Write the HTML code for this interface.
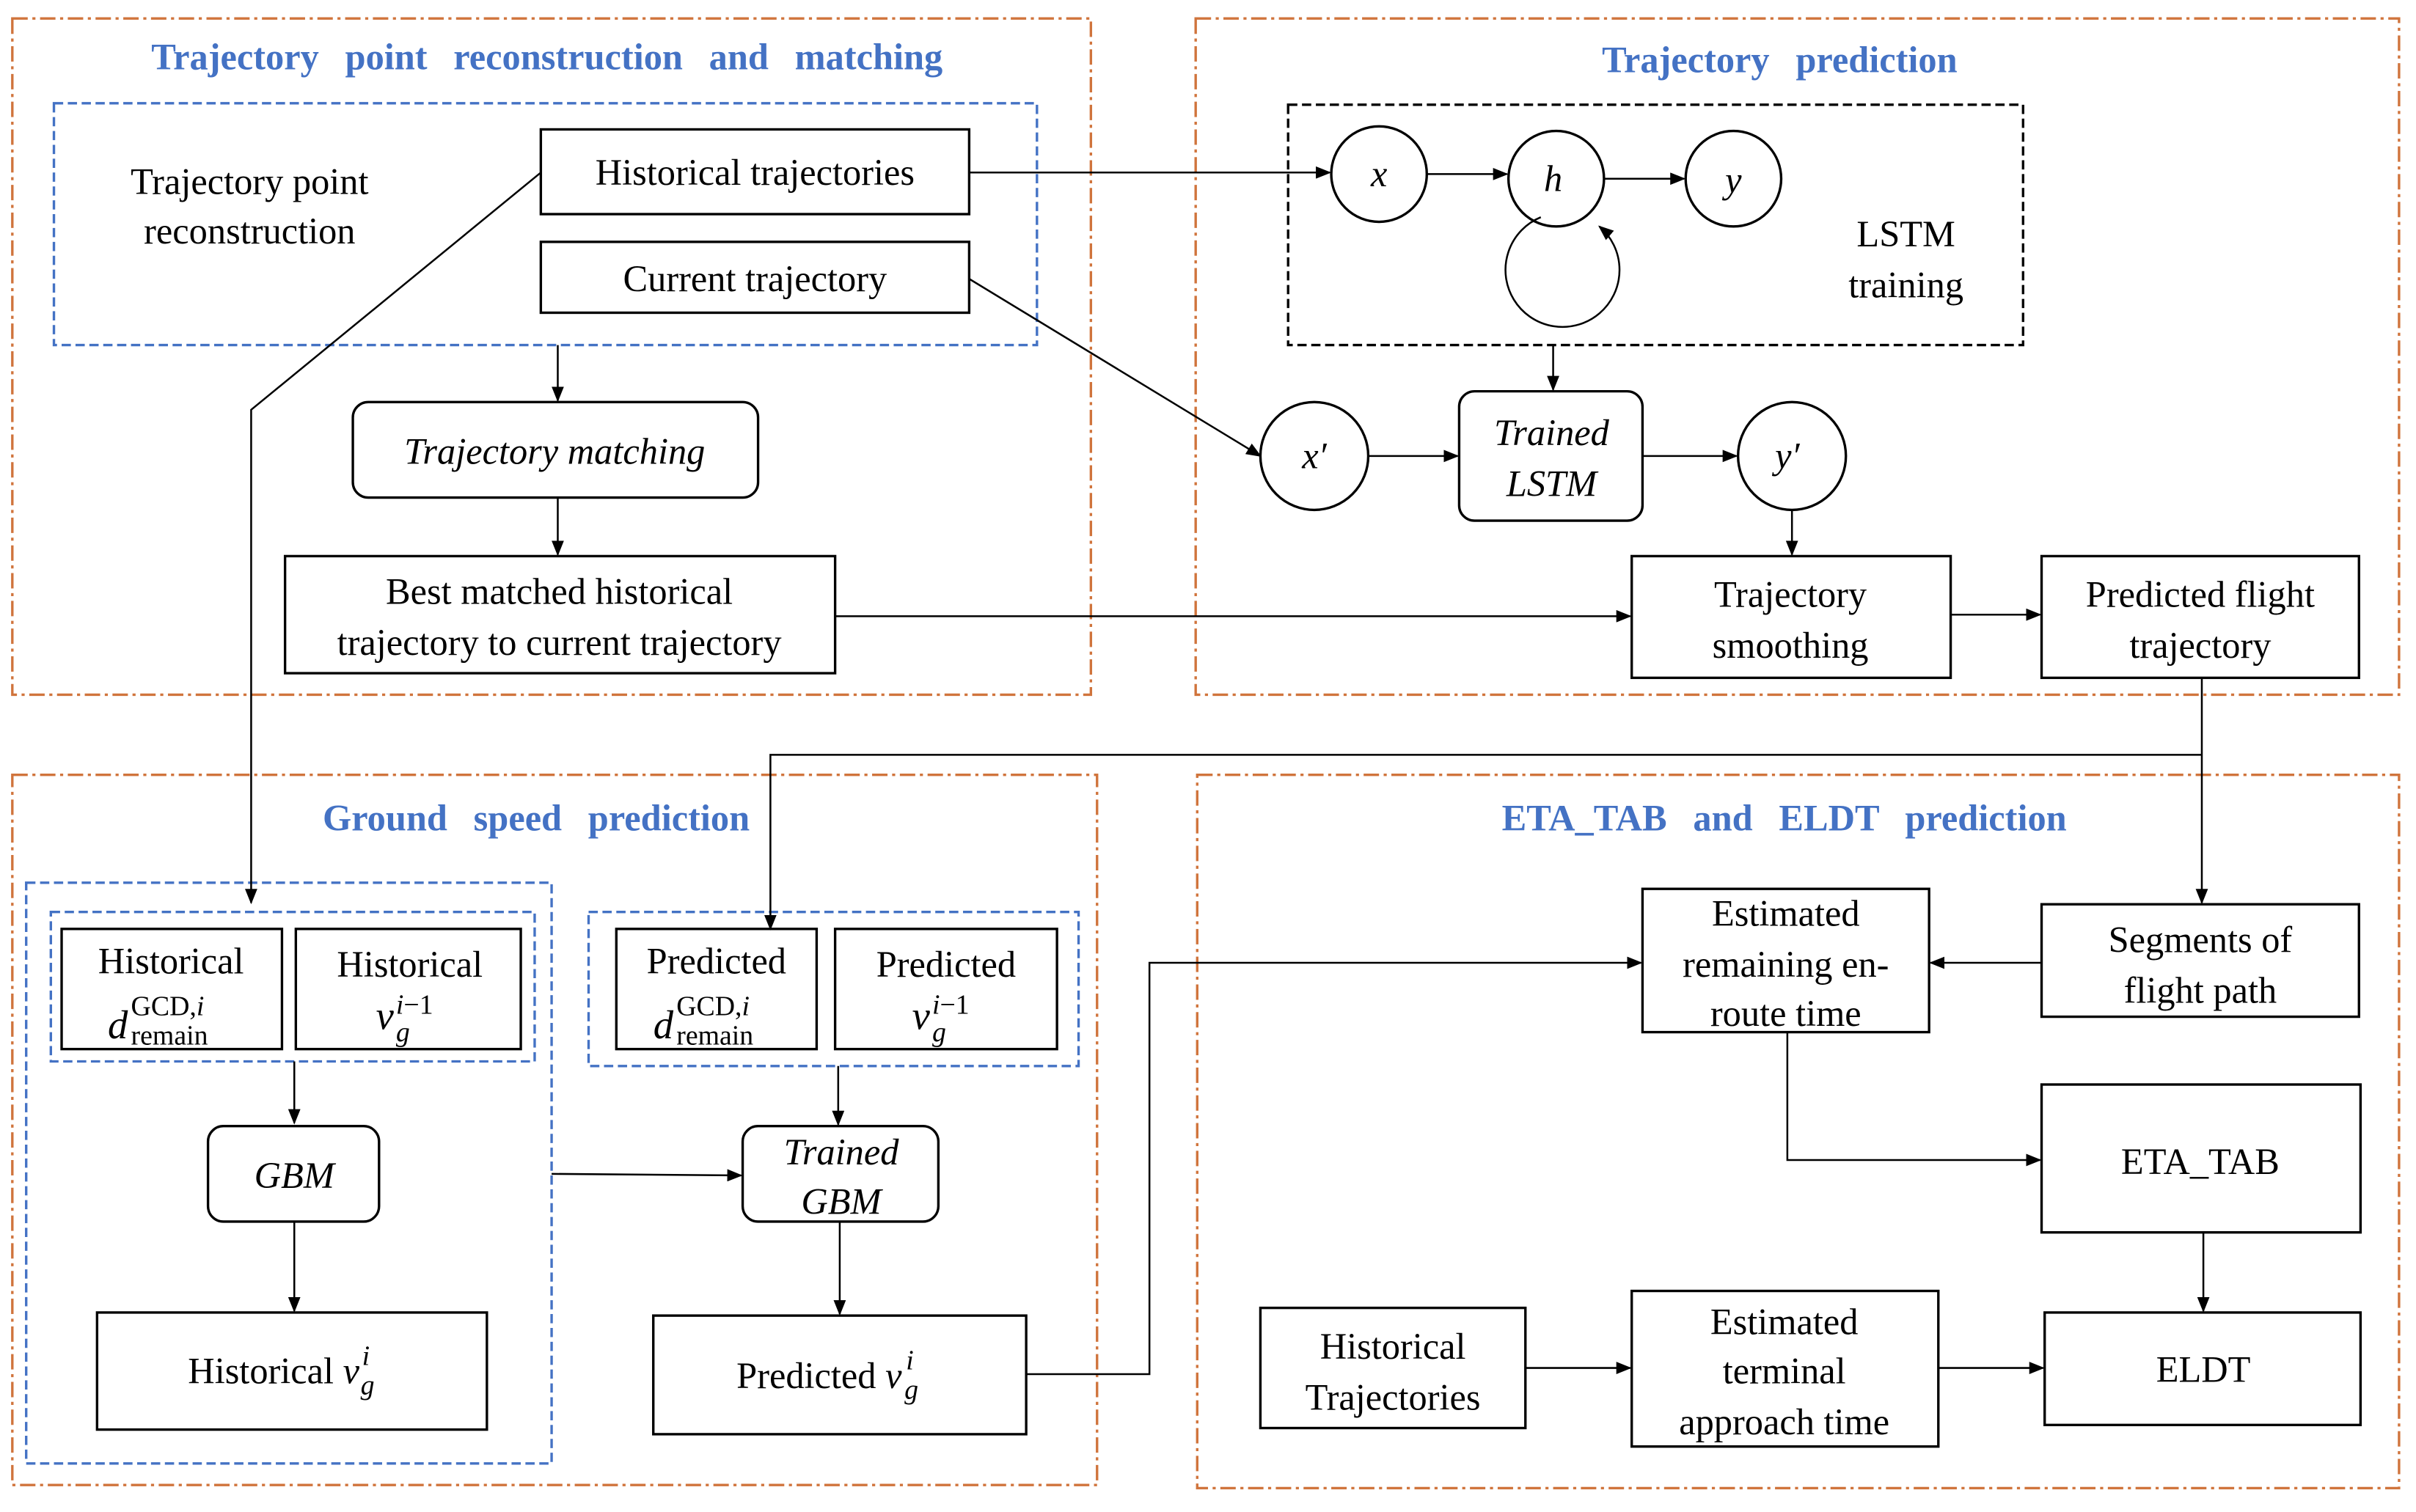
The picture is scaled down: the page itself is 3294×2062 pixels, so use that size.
<!DOCTYPE html>
<html><head><meta charset="utf-8"><style>
html,body{margin:0;padding:0;background:#fff;}
svg{display:block;}
text{font-family:"Liberation Serif",serif;fill:#000;}
.t{font-size:24px;text-anchor:middle;}
.h{font-size:24px;font-weight:bold;fill:#4472c4;text-anchor:middle;word-spacing:11px;}
.it{font-style:italic;}
.s{font-size:18px;}
</style></head><body>
<svg width="3294" height="2062" viewBox="0 0 1568 981.5" preserveAspectRatio="none" xmlns="http://www.w3.org/2000/svg">
<defs><marker id="a" markerWidth="10" markerHeight="8" refX="9" refY="4" orient="auto" markerUnits="userSpaceOnUse"><path d="M0,0L10,4L0,8z" fill="#000"/></marker></defs>
<rect width="1568" height="981.5" fill="#fff"/>
<g fill="none" stroke="#d0743c" stroke-width="1.6" stroke-dasharray="10 3 2 3">
<rect x="8" y="12" width="700" height="439"/>
<rect x="776" y="12" width="781" height="439"/>
<rect x="8" y="503" width="704" height="461"/>
<rect x="777" y="503" width="780" height="463"/>
</g>
<g fill="none" stroke="#4472c4" stroke-width="1.6" stroke-dasharray="6 3">
<rect x="35" y="67" width="638" height="157"/>
<rect x="17" y="573" width="341" height="377"/>
<rect x="33" y="592" width="314" height="97"/>
<rect x="382" y="592" width="318" height="100"/>
</g>
<rect x="836" y="68" width="477" height="156" fill="none" stroke="#000" stroke-width="1.6" stroke-dasharray="6 3"/>
<text class="h" x="355" y="45">Trajectory point reconstruction and matching</text>
<text class="h" x="1155" y="47">Trajectory prediction</text>
<text class="h" x="348" y="539">Ground speed prediction</text>
<text class="h" x="1158" y="539">ETA_TAB and ELDT prediction</text>
<g fill="#fff" stroke="#000" stroke-width="1.6">
<rect x="351" y="84" width="278" height="55"/>
<rect x="351" y="157" width="278" height="46"/>
<rect x="229" y="261" width="263" height="62" rx="10"/>
<rect x="185" y="361" width="357" height="76"/>
<circle cx="895" cy="113" r="31"/>
<circle cx="1010" cy="116" r="31"/>
<circle cx="1125" cy="116" r="31"/>
<circle cx="853" cy="296" r="35"/>
<circle cx="1163" cy="296" r="35"/>
<rect x="947" y="254" width="119" height="84" rx="10"/>
<rect x="1059" y="361" width="207" height="79"/>
<rect x="1325" y="361" width="206" height="79"/>
<rect x="40" y="603" width="143" height="78"/>
<rect x="192" y="603" width="146" height="78"/>
<rect x="135" y="731" width="111" height="62" rx="10"/>
<rect x="63" y="852" width="253" height="76"/>
<rect x="400" y="603" width="130" height="78"/>
<rect x="542" y="603" width="144" height="78"/>
<rect x="482" y="731" width="127" height="62" rx="10"/>
<rect x="424" y="854" width="242" height="77"/>
<rect x="1066" y="577" width="186" height="93"/>
<rect x="1325" y="587" width="206" height="73"/>
<rect x="1325" y="704" width="207" height="96"/>
<rect x="1327" y="852" width="205" height="73"/>
<rect x="818" y="849" width="172" height="78"/>
<rect x="1059" y="838" width="199" height="101"/>
</g>
<g fill="none" stroke="#000" stroke-width="1.2" marker-end="url(#a)">
<path d="M362,224V260"/>
<path d="M362,323V360"/>
<path d="M351,112L163,266V586"/>
<path d="M629,112H863"/>
<path d="M629,181L818,296"/>
<path d="M926,113H978"/>
<path d="M1041,116H1093"/>
<path d="M1000,141A37,37 0 1 0 1038,147"/>
<path d="M1008,224V253"/>
<path d="M888,296H946"/>
<path d="M1066,296H1127"/>
<path d="M1163,331V360"/>
<path d="M542,400H1058"/>
<path d="M1266,399H1324"/>
<path d="M1429,440V586"/>
<path d="M1429,490H500V603"/>
<path d="M191,689V729"/>
<path d="M191,793V851"/>
<path d="M544,692V730"/>
<path d="M545,793V853"/>
<path d="M358,762L481,763"/>
<path d="M666,892H746V625H1065"/>
<path d="M1325,625H1253"/>
<path d="M1160,670V753H1324"/>
<path d="M1430,800V851"/>
<path d="M990,888H1058"/>
<path d="M1258,888H1326"/>
</g>
<text class="t" x="162" y="126">Trajectory point</text>
<text class="t" x="162" y="158">reconstruction</text>
<text class="t" x="490" y="120">Historical trajectories</text>
<text class="t" x="490" y="189">Current trajectory</text>
<text class="t it" x="360" y="301">Trajectory matching</text>
<text class="t" x="363" y="392">Best matched historical</text>
<text class="t" x="363" y="425">trajectory to current trajectory</text>
<text class="t it" x="895" y="121">x</text>
<text class="t it" x="1008" y="124">h</text>
<text class="t it" x="1125" y="125">y</text>
<text class="t" x="1237" y="160">LSTM</text>
<text class="t" x="1237" y="193">training</text>
<text class="t it" x="853" y="304">x′</text>
<text class="t it" x="1160" y="304">y′</text>
<text class="t it" x="1007" y="289">Trained</text>
<text class="t it" x="1007" y="322">LSTM</text>
<text class="t" x="1162" y="394">Trajectory</text>
<text class="t" x="1162" y="427">smoothing</text>
<text class="t" x="1428" y="394">Predicted flight</text>
<text class="t" x="1428" y="427">trajectory</text>

<text class="t" x="111" y="632">Historical</text>
<text class="it" x="70" y="674" font-size="26">d</text>
<text class="s" x="85" y="659">GCD,<tspan font-style="italic">i</tspan></text>
<text class="s" x="85" y="678">remain</text>
<text class="t" x="266" y="634">Historical</text>
<text class="it" x="244" y="668" font-size="26">v</text>
<text class="s" x="257" y="658"><tspan font-style="italic">i</tspan>−1</text>
<text class="s it" x="257" y="676">g</text>
<text class="t it" x="191" y="771">GBM</text>
<text x="122" y="898" font-size="24">Historical <tspan font-style="italic">v</tspan></text>
<text class="s it" x="235" y="886">i</text>
<text class="s it" x="234" y="905">g</text>

<text class="t" x="465" y="632">Predicted</text>
<text class="it" x="424" y="674" font-size="26">d</text>
<text class="s" x="439" y="659">GCD,<tspan font-style="italic">i</tspan></text>
<text class="s" x="439" y="678">remain</text>
<text class="t" x="614" y="634">Predicted</text>
<text class="it" x="592" y="668" font-size="26">v</text>
<text class="s" x="605" y="658"><tspan font-style="italic">i</tspan>−1</text>
<text class="s it" x="605" y="676">g</text>
<text class="t it" x="546" y="756">Trained</text>
<text class="t it" x="546" y="788">GBM</text>
<text x="478" y="901" font-size="24">Predicted <tspan font-style="italic">v</tspan></text>
<text class="s it" x="588" y="889">i</text>
<text class="s it" x="587" y="908">g</text>

<text class="t" x="1159" y="601">Estimated</text>
<text class="t" x="1159" y="634">remaining en-</text>
<text class="t" x="1159" y="666">route time</text>
<text class="t" x="1428" y="618">Segments of</text>
<text class="t" x="1428" y="651">flight path</text>
<text class="t" x="1428" y="762">ETA_TAB</text>
<text class="t" x="1430" y="897">ELDT</text>
<text class="t" x="904" y="882">Historical</text>
<text class="t" x="904" y="915">Trajectories</text>
<text class="t" x="1158" y="866">Estimated</text>
<text class="t" x="1158" y="898">terminal</text>
<text class="t" x="1158" y="931">approach time</text>
</svg>
</body></html>
